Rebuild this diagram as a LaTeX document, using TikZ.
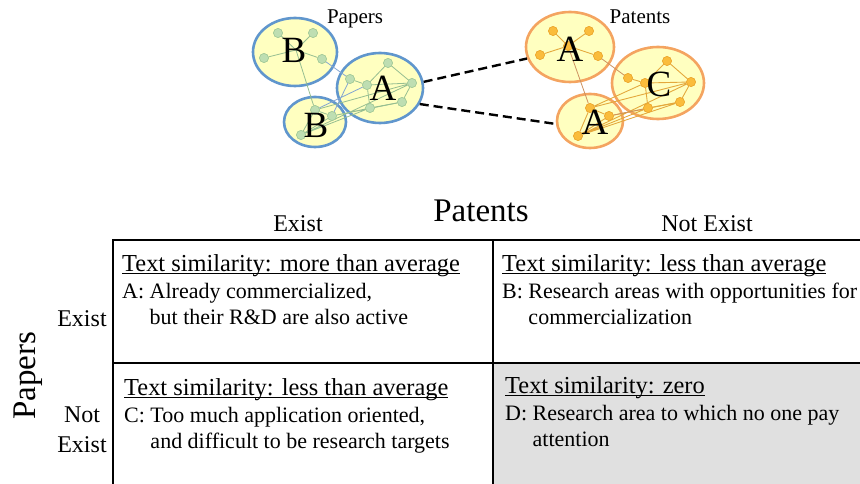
\documentclass[tikz,border=0pt]{standalone}
\usepackage{fontspec}
\setmainfont{Liberation Serif}
\usetikzlibrary{shapes.geometric}
\definecolor{nodeyel}{RGB}{255,255,192}
\definecolor{papblue}{RGB}{96,150,205}
\definecolor{patorange}{RGB}{244,164,96}
\definecolor{grnnode}{RGB}{190,222,178}
\definecolor{grnrim}{RGB}{160,200,150}
\definecolor{grnedge}{RGB}{150,190,145}
\definecolor{blueedge}{RGB}{130,165,210}
\definecolor{orgnode}{RGB}{250,188,60}
\definecolor{orgrim}{RGB}{235,165,45}
\definecolor{orgedge}{RGB}{228,168,60}
\definecolor{brownedge}{RGB}{205,145,95}
\definecolor{cellgrey}{RGB}{224,224,224}
\newcommand\myul[1]{\setbox0\hbox{#1}\rlap{\rule[-2.6pt]{\wd0}{0.9pt}}\box0}
\begin{document}
\begin{tikzpicture}[x=1pt,y=-1pt,
  cluster/.style={ellipse, line width=2.6pt, fill=nodeyel, inner sep=0},
  pap/.style={cluster, draw=papblue},
  pat/.style={cluster, draw=patorange},
  gdot/.style={circle, fill=grnnode, draw=grnrim, line width=0.5pt, inner sep=0, minimum size=9pt},
  odot/.style={circle, fill=orgnode, draw=orgrim, line width=0.5pt, inner sep=0, minimum size=9pt},
  gline/.style={draw=grnedge, line width=0.8pt},
  bline/.style={draw=blueedge, line width=0.8pt},
  oline/.style={draw=orgedge, line width=0.9pt},
  brline/.style={draw=brownedge, line width=0.8pt},
  bigletter/.style={font=\fontsize{37}{37}\selectfont, inner sep=0},
  nettitle/.style={font=\fontsize{21}{24}\selectfont, inner sep=0},
  dashlink/.style={line width=2.4pt, dash pattern=on 9pt off 5pt},
  bigtitle/.style={font=\fontsize{33}{36}\selectfont, inner sep=0},
  colhead/.style={font=\fontsize{24}{28}\selectfont, inner sep=0},
  cellhead/.style={font=\fontsize{24.4}{28}\selectfont, inner sep=0, anchor=base west},
  celltext/.style={font=\fontsize{22}{26}\selectfont, inner sep=0, anchor=base west},
  gridline/.style={line width=1.8pt}
]
\useasboundingbox (0,0) rectangle (860,484);

% ---------- Papers network ----------
\node[pap, minimum width=84pt, minimum height=68pt] (pB1) at (295,52) {};
\node[pap, minimum width=86pt, minimum height=70pt] (pA) at (380,88) {};
\node[pap, minimum width=62pt, minimum height=50pt] (pB2) at (315,122) {};

\coordinate (pbh) at (296,50);
\node[gdot] (pb1a) at (278,33) {};
\node[gdot] (pb1b) at (313,33) {};
\node[gdot] (pb1c) at (264,58) {};
\node[gdot] (pb1d) at (322,59) {};

\node[gdot] (pAa) at (388,63) {};
\node[gdot] (pAb) at (350,79) {};
\node[gdot] (pAc) at (367,85) {};
\node[gdot] (pAd) at (412,83) {};
\node[gdot] (pAe) at (402,102) {};
\node[gdot] (pAf) at (370,108) {};

\node[gdot] (pb2a) at (315,110) {};
\node[gdot] (pb2b) at (332,116) {};
\node[gdot] (pb2c) at (301,135) {};

\path[gline] (pbh) -- (pb1a) (pbh) -- (pb1b) (pbh) -- (pb1c) (pbh) -- (pb1d);
\path[gline] (pbh) -- (pb2a);
\path[bline] (pb1d) -- (pAb);
\path[gline] (pAa) -- (pAc) (pAa) -- (pAd) (pAb) -- (pAc) (pAc) -- (pAd)
             (pAc) -- (pAf) (pAf) -- (pAe) (pAe) -- (pAd);
\path[gline] (pb2a) -- (pAd) (pb2b) -- (pAe) (pb2c) -- (pAd) (pb2c) -- (pAf) (pb2b) -- (pAf);
\path[bline] (pb2a) -- (pAc) (pb2b) -- (pAb);
\path[gline] (pb2a) -- (pb2c) (pb2b) -- (pb2c) (pb2a) -- (pb2b);

% redraw dots on top of lines
\foreach \n in {pb1a,pb1b,pb1c,pb1d,pAa,pAb,pAc,pAd,pAe,pAf,pb2a,pb2b,pb2c}
  \node[gdot] at (\n) {};

\node[bigletter] (lB1) at (294,50) {B};
\node[bigletter] (lA1) at (383,88) {A};
\node[bigletter] (lB2) at (316,125) {B};
\node[nettitle] (tpap) at (355,19) {Papers};

% ---------- Patents network ----------
\node[pat, minimum width=88pt, minimum height=70pt] (tA) at (570,47) {};
\node[pat, minimum width=92pt, minimum height=72pt] (tC) at (658,83) {};
\node[pat, minimum width=66pt, minimum height=54pt] (tA2) at (590,121) {};

\node[odot] (th) at (568,46) {};
\node[odot] (t1) at (553,31) {};
\node[odot] (t2) at (589,31) {};
\node[odot] (t3) at (540,55) {};
\node[odot] (t4) at (598,56) {};

\node[odot] (c1) at (667,61) {};
\node[odot] (c2) at (628,78) {};
\node[odot] (c3) at (645,83) {};
\node[odot] (c4) at (691,82) {};
\node[odot] (c5) at (680,102) {};
\node[odot] (c6) at (648,108) {};

\node[odot] (d1) at (590,108) {};
\node[odot] (d2) at (609,116) {};
\node[odot] (d3) at (578,136) {};

\path[oline] (th) -- (t1) (th) -- (t2) (th) -- (t3) (th) -- (t4);
\path[brline] (th) -- (d1) (t4) -- (c2);
\path[oline] (c1) -- (c3) (c1) -- (c4) (c2) -- (c3) (c3) -- (c4)
             (c3) -- (c6) (c6) -- (c5) (c5) -- (c4);
\path[oline] (d1) -- (c4) (d1) -- (c3) (d3) -- (c4) (d3) -- (c6) (d2) -- (c5) (d3) -- (c5);
\path[brline] (d2) -- (c6);
\path[oline] (d1) -- (d3) (d2) -- (d3) (d1) -- (d2);

\foreach \n in {th,t1,t2,t3,t4,c1,c2,c3,c4,c5,c6,d1,d2,d3}
  \node[odot] at (\n) {};

\node[bigletter] (lA2) at (570,49) {A};
\node[bigletter] (lC) at (659,84) {C};
\node[bigletter] (lA3) at (595,122) {A};
\node[nettitle] (tpat) at (640,17) {Patents};

% ---------- dashed links ----------
\draw[dashlink] (pA.8) -- (tA.195);
\draw[dashlink] (pA.-22) -- (tA2.185);

% ---------- table ----------
\fill[cellgrey] (493,363) rectangle (866,490);
\draw[gridline] (866,240) -- (113,240) -- (113,490);
\draw[gridline] (493,240) -- (493,490);
\draw[gridline] (113,363) -- (866,363);

\node[bigtitle, anchor=base] (hpat) at (481,222) {Patents};
\node[colhead, anchor=base] (hex) at (298,232) {Exist};
\node[colhead, anchor=base] (hnex) at (707,232) {Not Exist};

\node[bigtitle, anchor=base, rotate=90] (hpap) at (35,376) {Papers};
\node[colhead, anchor=base] (rex) at (82,326) {Exist};
\node[colhead, anchor=base] (rnot) at (82,422) {Not};
\node[colhead, anchor=base] (rnex) at (82,452) {Exist};

% cell A
\node[cellhead] (ah) at (122,271) {\myul{Text similarity: more than average}};
\node[celltext] (a1) at (122,298) {A: Already commercialized,};
\node[celltext] (a2) at (122,324) {\hphantom{A:~}but their R\&D are also active};
% cell B
\node[cellhead] (bh) at (502,271) {\myul{Text similarity: less than average}};
\node[celltext] (b1) at (502,298) {B: Research areas with opportunities for};
\node[celltext] (b2) at (502,324) {\hphantom{B:~}commercialization};
% cell C
\node[cellhead] (ch) at (124,395) {\myul{Text similarity: less than average}};
\node[celltext] (c1t) at (124,422) {C: Too much application oriented,};
\node[celltext] (c2t) at (124,448) {\hphantom{C:~}and difficult to be research targets};
% cell D
\node[cellhead] (dh) at (505,393) {\myul{Text similarity: zero}};
\node[celltext] (d1t) at (505,420) {D: Research area to which no one pay};
\node[celltext] (d2t) at (505,446) {\hphantom{D:~}attention};
\end{tikzpicture}
\end{document}
